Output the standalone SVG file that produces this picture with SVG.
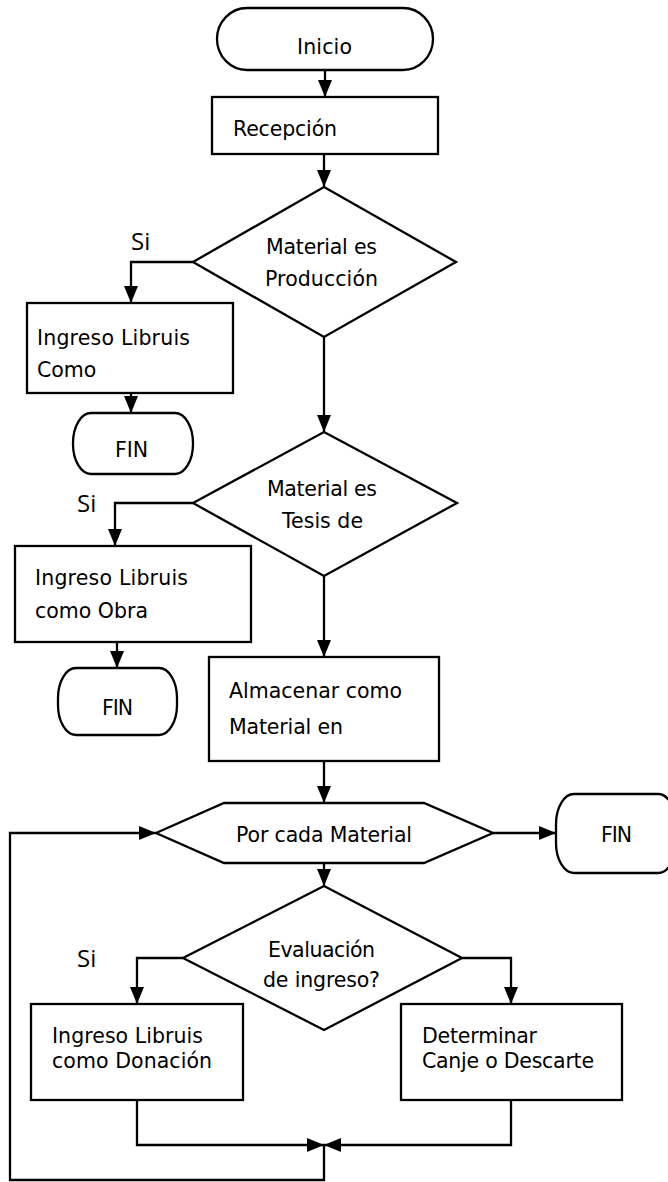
<svg xmlns="http://www.w3.org/2000/svg" width="668" height="1182" viewBox="0 0 668 1182">
<style>
.s{fill:#fff;stroke:#000;stroke-width:2.3}
.c{fill:none;stroke:#000;stroke-width:2.3}
.t{font-family:"DejaVu Sans",Verdana,sans-serif;font-size:20.5px;fill:#000}
.si{font-family:"Open Sans","DejaVu Sans",sans-serif;font-size:24px;fill:#000}
</style>
<defs>
<marker id="a" markerUnits="userSpaceOnUse" markerWidth="17" markerHeight="14" refX="17" refY="7" orient="auto">
<path d="M0,0 L17,7 L0,14 z" fill="#000"/>
</marker>
</defs>
<rect width="668" height="1182" fill="#fff"/>
<g id="connectors">
<path class="c" d="M325,70 V97" marker-end="url(#a)"/>
<path class="c" d="M324,154 V187" marker-end="url(#a)"/>
<path class="c" d="M193,262 H131 V303" marker-end="url(#a)"/>
<path class="c" d="M131,393 V413" marker-end="url(#a)"/>
<path class="c" d="M324,337 V432" marker-end="url(#a)"/>
<polygon points="324,432 317,447 331,447" fill="#000"/>
<path class="c" d="M193,503 H115 V546" marker-end="url(#a)"/>
<path class="c" d="M117,642 V668" marker-end="url(#a)"/>
<path class="c" d="M324,576 V657" marker-end="url(#a)"/>
<path class="c" d="M324,761 V803" marker-end="url(#a)"/>
<path class="c" d="M493,833 H556" marker-end="url(#a)"/>
<path class="c" d="M324,863 V886" marker-end="url(#a)"/>
<path class="c" d="M183,958 H137 V1004" marker-end="url(#a)"/>
<path class="c" d="M462,958 H511 V1004" marker-end="url(#a)"/>
<path class="c" d="M137,1100 V1145 H324" marker-end="url(#a)"/>
<path class="c" d="M511,1100 V1145 H324" marker-end="url(#a)"/>
<path class="c" d="M324,1145 V1180 H10 V833 H156" marker-end="url(#a)"/>
</g>
<g id="inicio">
<rect class="s" x="217" y="8" width="216" height="62" rx="30" ry="31"/>
<text class="t" x="297" y="54" textLength="55">Inicio</text>
</g>
<g id="recepcion">
<rect class="s" x="212" y="97" width="226" height="57"/>
<text class="t" x="233" y="136" textLength="104">Recepción</text>
</g>
<g id="decision1">
<polygon class="s" points="324,187 456,262 324,337 193,262"/>
<text class="t" x="266" y="254" textLength="111">Material es</text>
<text class="t" x="265" y="286" textLength="113">Producción</text>
<text class="si" x="131" y="250">Si</text>
</g>
<g id="ingreso1">
<rect class="s" x="27" y="303" width="206" height="90"/>
<text class="t" x="37" y="345" textLength="153">Ingreso Libruis</text>
<text class="t" x="37" y="377">Como</text>
</g>
<g id="fin1">
<rect class="s" x="73" y="413" width="120" height="61" rx="18" ry="30"/>
<text class="t" x="115" y="457" textLength="33">FIN</text>
</g>
<g id="decision2">
<polygon class="s" points="324,432 457,503 324,576 193,503"/>
<text class="t" x="267" y="496" textLength="110">Material es</text>
<text class="t" x="282" y="528" textLength="81">Tesis de</text>
<text class="si" x="77" y="512">Si</text>
</g>
<g id="ingreso2">
<rect class="s" x="15" y="546" width="236" height="96"/>
<text class="t" x="35" y="585" textLength="153">Ingreso Libruis</text>
<text class="t" x="35" y="618" textLength="113">como Obra</text>
</g>
<g id="fin2">
<rect class="s" x="58" y="668" width="119" height="67" rx="18" ry="30"/>
<text class="t" x="102" y="715" textLength="31">FIN</text>
</g>
<g id="almacenar">
<rect class="s" x="209" y="657" width="230" height="104"/>
<text class="t" x="229" y="698" textLength="173">Almacenar como</text>
<text class="t" x="229" y="734" textLength="114">Material en</text>
</g>
<g id="loop">
<polygon class="s" points="156,833 224,803 424,803 493,833 424,863 224,863"/>
<text class="t" x="236" y="842" textLength="176">Por cada Material</text>
</g>
<g id="fin3">
<rect class="s" x="556" y="794" width="120" height="79" rx="18" ry="30"/>
<text class="t" x="601" y="842" textLength="31">FIN</text>
</g>
<g id="decision3">
<polygon class="s" points="324,886 462,958 324,1030 183,958"/>
<text class="t" x="268" y="957" textLength="107">Evaluación</text>
<text class="t" x="263" y="987" textLength="117">de ingreso?</text>
<text class="si" x="77" y="967">Si</text>
</g>
<g id="donacion">
<rect class="s" x="31" y="1004" width="212" height="96"/>
<text class="t" x="52" y="1043" textLength="151">Ingreso Libruis</text>
<text class="t" x="52" y="1068" textLength="160">como Donación</text>
</g>
<g id="determinar">
<rect class="s" x="401" y="1004" width="221" height="96"/>
<text class="t" x="422" y="1043" textLength="115">Determinar</text>
<text class="t" x="422" y="1068" textLength="172">Canje o Descarte</text>
</g>
</svg>
